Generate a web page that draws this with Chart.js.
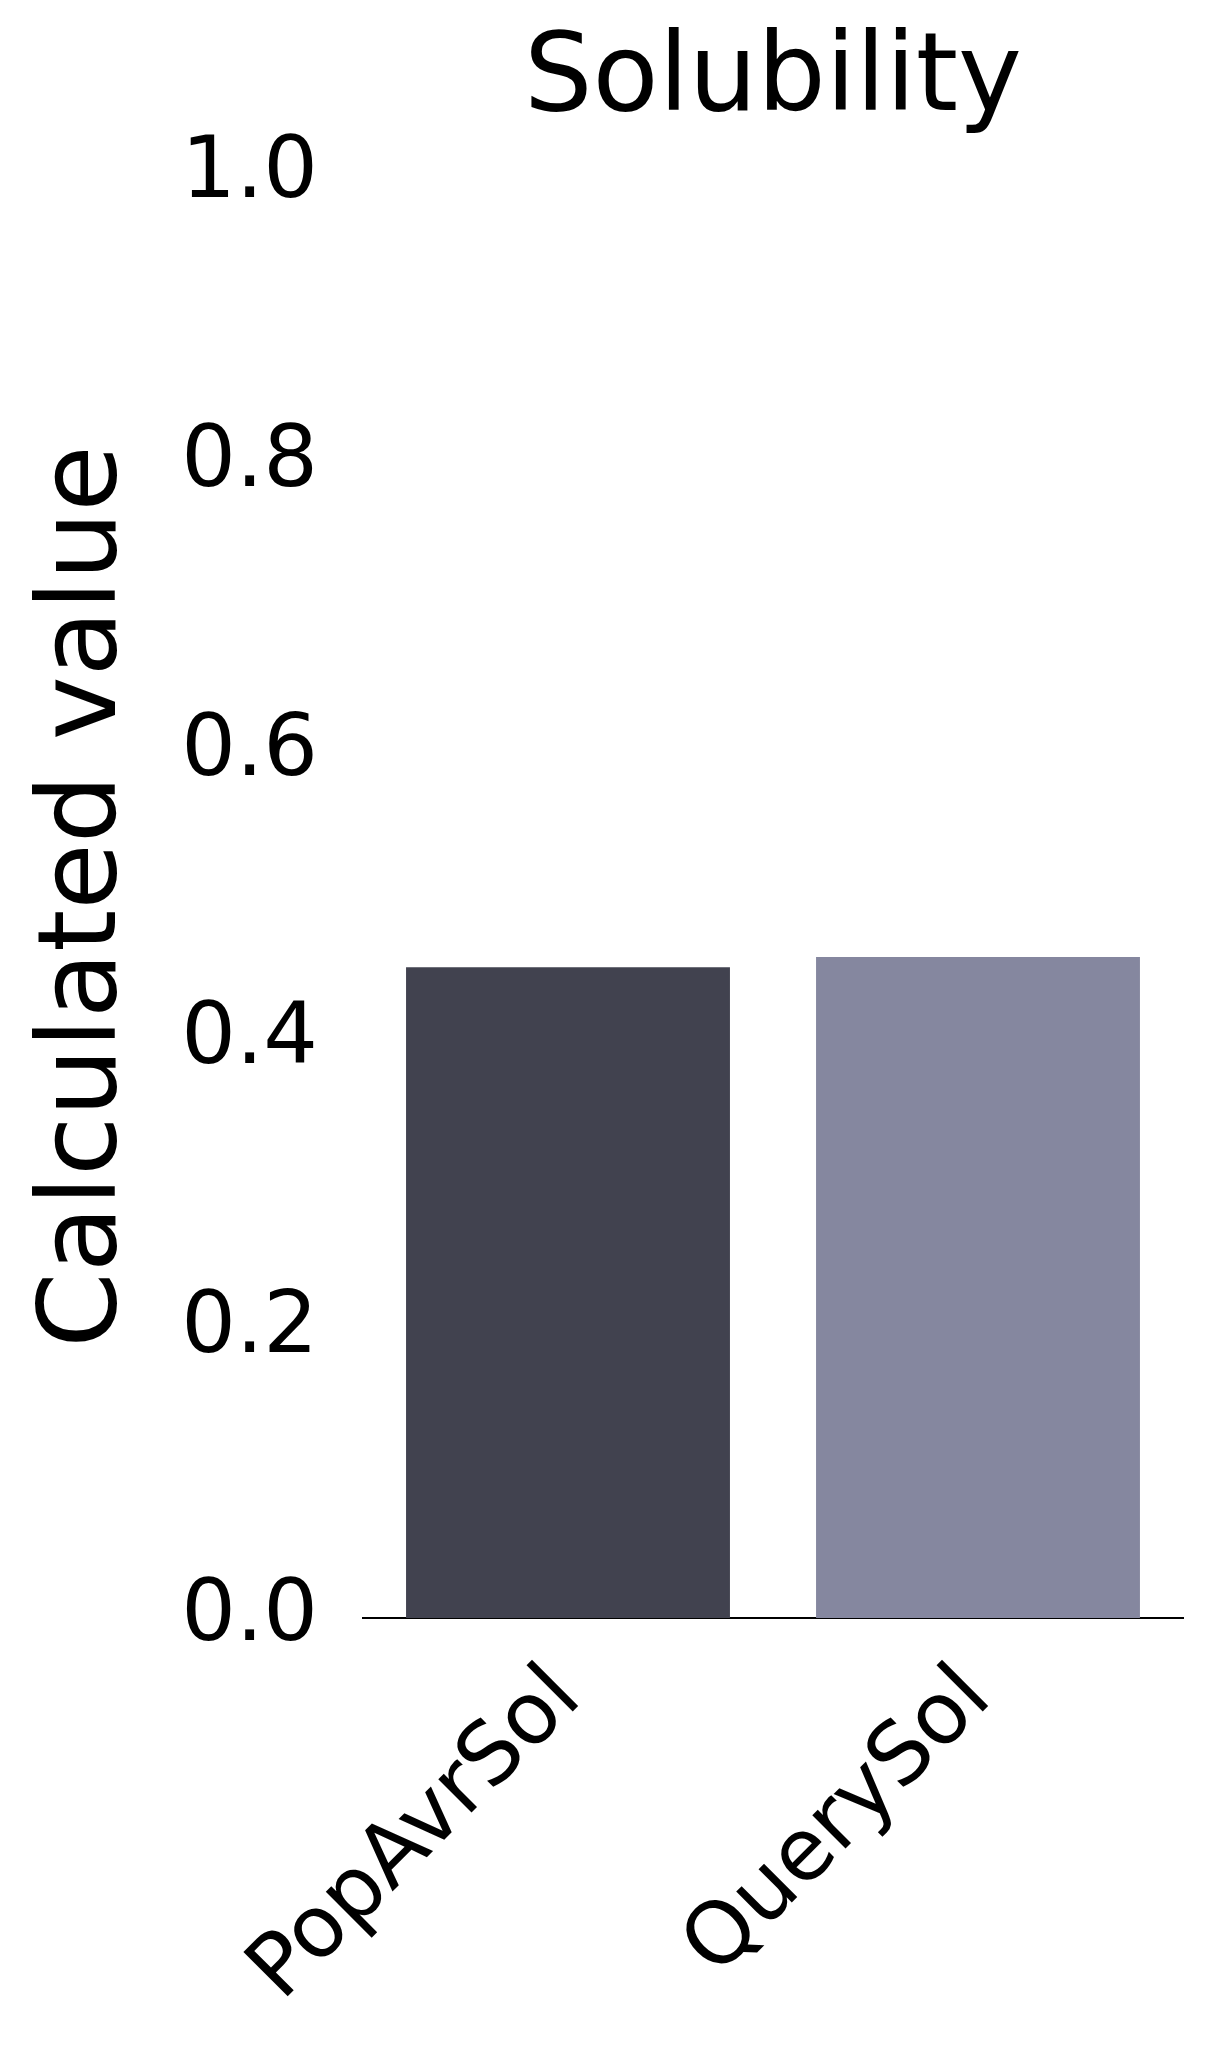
<!DOCTYPE html>
<html>
<head>
<meta charset="utf-8">
<script src="https://cdn.jsdelivr.net/npm/chart.js@4/dist/chart.umd.min.js"></script>
<style>
  html, body { margin: 0; padding: 0; background: #fff; }
</style>
</head>
<body>
<canvas id="solChart" width="1205" height="2063"></canvas>
<script>
const categories = ["PopAvrSol", "QuerySol"];
const values = [0.451, 0.458];
const barColors = ["#41424f", "#85879f"];
const yTicks = [0.0, 0.2, 0.4, 0.6, 0.8, 1.0];
const chartTitle = "Solubility";
const yTitle = "Calculated value";

// title centered over the plot area, like the original figure
const plotTitle = {
    id: "plotTitle",
    afterDraw(chart) {
        const { ctx, chartArea } = chart;
        ctx.save();
        ctx.fillStyle = "#000";
        ctx.font = "108px 'DejaVu Sans'";
        ctx.textAlign = "center";
        ctx.textBaseline = "middle";
        ctx.fillText(chartTitle, (chartArea.left + chartArea.right) / 2, 82);
        ctx.restore();
    }
};

const ctx = document.getElementById("solChart").getContext("2d");
new Chart(ctx, {
    type: "bar",
    data: {
        labels: categories,
        datasets: [{
            data: values,
            backgroundColor: barColors,
            borderWidth: 0,
            barPercentage: 0.79,
            categoryPercentage: 1.0
        }]
    },
    options: {
        responsive: false,
        animation: false,
        layout: { padding: { top: 175, right: 22, left: 22, bottom: 10 } },
        plugins: {
            legend: { display: false },
            tooltip: { enabled: false }
        },
        scales: {
            y: {
                min: 0,
                max: 1,
                afterBuildTicks: scale => { scale.ticks = yTicks.map(v => ({ value: v })); },
                afterFit: scale => { scale.width = 341; },
                grid: { display: false, drawTicks: false },
                border: { display: false },
                ticks: {
                    color: "#000",
                    padding: 45,
                    font: { family: "DejaVu Sans", size: 86 },
                    callback: v => v.toFixed(1)
                },
                title: {
                    display: true,
                    text: yTitle,
                    color: "#000",
                    font: { family: "DejaVu Sans", size: 108 },
                    padding: { top: 0, bottom: 0 }
                }
            },
            x: {
                grid: { display: false, drawTicks: false },
                border: { display: true, color: "#000", width: 2 },
                ticks: {
                    color: "#000",
                    padding: 30,
                    maxRotation: 45,
                    minRotation: 45,
                    font: { family: "DejaVu Sans", size: 86 }
                }
            }
        }
    },
    plugins: [plotTitle]
});
</script>
</body>
</html>
